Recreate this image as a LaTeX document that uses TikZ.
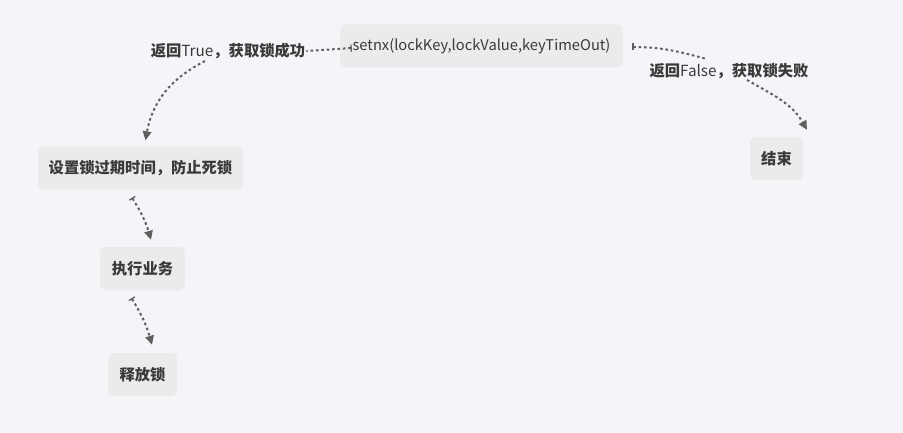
\documentclass[tikz,border=0pt]{standalone}
\usepackage{fontspec}
\setmainfont{Noto Sans CJK SC}
\usetikzlibrary{arrows.meta,calc}
\definecolor{bg}{HTML}{F5F5F9}
\definecolor{boxc}{HTML}{EBEBEB}
\definecolor{ln}{HTML}{5F5F5F}
\definecolor{tx}{HTML}{3A3A3A}
\begin{document}
\begin{tikzpicture}[x=1pt,y=1pt,
 box/.style={fill=boxc, rounded corners=6pt, text=tx, font=\fontsize{15.3}{18}\selectfont\bfseries, inner sep=0pt, minimum height=43pt},
 lab/.style={text=tx, font=\fontsize{15.3}{18}\selectfont, inner sep=1pt},
 conn/.style={draw=ln, line width=2pt, dash pattern=on 2.6pt off 2.8pt},
 tri/.style={-{Triangle[length=9pt,width=8.5pt]}},
 bartri/.style={{Bar[width=7pt,line width=1.3pt]}-{Triangle[length=9pt,width=8.5pt]}},
 baronly/.style={{Bar[width=7pt,line width=1.3pt]}-}]
\fill[bg] (0,0) rectangle (903,-433);
\node[box, minimum width=283pt, font=\fontsize{14.7}{17}\selectfont] (setnx) at (481.5,-46) {setnx(lockKey,lockValue,keyTimeOut)};
\node[box, minimum width=205pt] (expire) at (140.5,-168) {设置锁过期时间，防止死锁};
\node[box, minimum width=85pt] (exec) at (142.5,-268.5) {执行业务};
\node[box, minimum width=69pt] (rel) at (142.5,-374.5) {释放锁};
\node[box, minimum width=53pt] (end) at (776.5,-158.5) {结束};
\node[lab] (lt) at (228,-51) {{\bfseries 返回}True{\bfseries ，获取锁成功}};
\node[lab] (lf) at (729,-71) {{\bfseries 返回}False{\bfseries ，获取锁失败}};
\draw[conn,baronly] ($(setnx.west)+(12,-2)$) -- (lt.east);
\draw[conn,tri] ($(lt.south)+(-23,-1)$) to[out=207,in=80] ($(expire.north)+(5,6)$);
\draw[conn,baronly] ($(setnx.east)+(9,-1)$) to[out=0,in=165] ($(lf.north)+(-22,3)$);
\draw[conn,tri] ($(lf.south)+(18,0)$) to[out=-30,in=120] ($(end.north)+(30.5,7)$);
\draw[conn,bartri] ($(expire.south)+(-8.5,-8)$) to[bend left=8] ($(exec.north)+(8.5,7)$);
\draw[conn,bartri] ($(exec.south)+(-11,-8)$) to[bend left=8] ($(rel.north)+(9.5,8)$);
\end{tikzpicture}
\end{document}
